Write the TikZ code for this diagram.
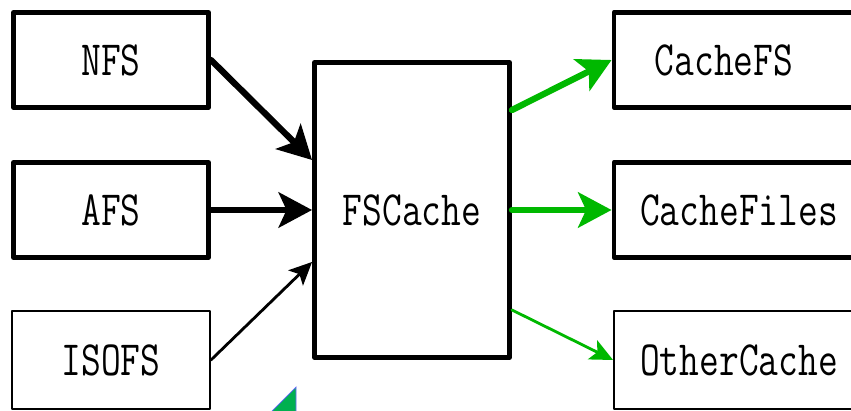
\documentclass[tikz,border=0pt]{standalone}
\usepackage{tikz}
\usetikzlibrary{arrows.meta}
\definecolor{flowgreen}{RGB}{0,184,0}
\definecolor{markgreen}{RGB}{0,176,80}
\newcommand{\fsname}[1]{\scalebox{0.95}[1.22]{#1}}

\begin{document}
\begin{tikzpicture}[x=0.02cm,y=-0.02cm,>=Stealth,
  fsbox/.style={draw,line width=2.8pt,line join=round,inner sep=0pt,
    minimum width=3.9cm,minimum height=1.9cm,font=\fontsize{23}{28}\selectfont\ttfamily},
  thinbox/.style={fsbox,line width=1.1pt,minimum width=3.96cm,minimum height=1.96cm},
  heavy/.style={->,line width=3.6pt,line cap=round,
    arrows={-Stealth[length=19pt,width=20pt,inset=4.5pt]}},
  light/.style={->,line width=1.6pt,line cap=round,
    arrows={-Stealth[length=13pt,width=12pt,inset=3pt]}}]
  \clip (0,0) rectangle (851,411);

  \node[fsbox] (NFS) at (111,60) {\fsname{NFS}};
  \node[fsbox] (AFS) at (111,210) {\fsname{AFS}};
  \node[thinbox] (ISOFS) at (111,360) {\fsname{ISOFS}};

  \node[fsbox,minimum height=5.9cm] (FSC) at (412,210) {\fsname{FSCache}};

  \node[fsbox,minimum width=5cm] (CFS) at (739,60) {\hspace*{-0.6cm}\fsname{CacheFS}};
  \node[fsbox,minimum width=5cm] (CFiles) at (739,210) {\fsname{CacheFiles}};
  \node[thinbox,minimum width=5cm] (Other) at (739,360) {\fsname{OtherCache}};

  \draw[heavy] (NFS.east) -- ([yshift=1cm]FSC.west);
  \draw[heavy] (AFS.east) -- (FSC.west);
  \draw[light] (ISOFS.east) -- ([yshift=-1.04cm]FSC.west);

  \draw[heavy,flowgreen] ([yshift=2cm]FSC.east) -- (CFS.west);
  \draw[heavy,flowgreen] (FSC.east) -- (CFiles.west);
  \draw[light,flowgreen] ([yshift=-2cm]FSC.east) -- (Other.west);

  % stray mark at the bottom edge
  \fill[markgreen,draw=blue!60,line width=0.4pt] (296,387) -- (296,420) -- (263,420) -- cycle;
\end{tikzpicture}
\end{document}
